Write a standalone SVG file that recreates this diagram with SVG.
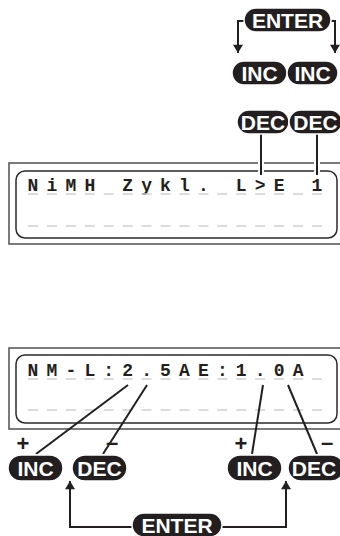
<svg xmlns="http://www.w3.org/2000/svg" width="340" height="536" viewBox="0 0 340 536">
<defs>
<marker id="ah" viewBox="0 0 10 12" refX="10" refY="6" markerWidth="12" markerHeight="10" markerUnits="userSpaceOnUse" orient="auto">
<path d="M0,0 L10,6 L0,12 Z" fill="#231f20"/>
</marker>
<style>
.pill{fill:#231f20;stroke:#fff;stroke-width:1.5}
.pt{font-family:"Liberation Sans",Arial,sans-serif;font-weight:bold;font-size:21px;fill:#fff;text-anchor:middle}
.outer{fill:none;stroke:#5a5a5a;stroke-width:1.6}
.inner{fill:none;stroke:#2a2a2a;stroke-width:1.5}
.lcd{font-family:"Liberation Mono","Courier New",monospace;font-weight:bold;font-size:18px;fill:#231f20;letter-spacing:8.13px}
.dash{stroke:#cfcfcf;stroke-width:1.6;stroke-dasharray:10 8.93}
.con{fill:none;stroke:#231f20;stroke-width:2}
.halo{fill:none;stroke:#fff;stroke-width:6}
.sign{font-family:"Liberation Sans",Arial,sans-serif;font-weight:bold;font-size:22px;fill:#231f20;text-anchor:middle}
</style>
</defs>

<g id="display1">
<rect class="outer" x="9" y="163" width="340" height="81"/>
<rect class="inner" x="16" y="171" width="321" height="67" rx="9"/>
<text class="lcd" x="27.6" y="191">NiMH Zykl. L&gt;E 1</text>
<line class="dash" x1="28" y1="194" x2="331" y2="194"/>
<line class="dash" x1="28" y1="226" x2="331" y2="226"/>
</g>

<g id="display2">
<rect class="outer" x="9" y="348" width="340" height="81"/>
<rect class="inner" x="16" y="355" width="321" height="68" rx="9"/>
<text class="lcd" x="27.6" y="376">NM-L:2.5AE:1.0A</text>
<line class="dash" x1="28" y1="379" x2="331" y2="379"/>
<line class="dash" x1="28" y1="410" x2="331" y2="410"/>
</g>

<g id="connectors">
<path class="con" d="M245,21 H238 V53" marker-end="url(#ah)"/>
<path class="con" d="M330,21 H335 V53" marker-end="url(#ah)"/>
<line class="halo" x1="261" y1="135" x2="261" y2="174"/>
<line class="halo" x1="317" y1="135" x2="317" y2="174"/>
<line class="con" x1="261" y1="133" x2="261" y2="175"/>
<line class="con" x1="317" y1="133" x2="317" y2="175"/>
<line class="con" x1="128" y1="385" x2="36" y2="454"/>
<line class="con" x1="147" y1="385" x2="103" y2="454"/>
<line class="con" x1="263" y1="385" x2="252" y2="454"/>
<line class="con" x1="288" y1="385" x2="317" y2="454"/>
<path class="con" d="M133,527 H70 V481" marker-end="url(#ah)"/>
<path class="con" d="M221,527 H286 V481" marker-end="url(#ah)"/>
</g>

<g id="enter-top">
<rect class="pill" x="244" y="8" width="87" height="24" rx="12"/>
<text class="pt" x="287.5" y="28">ENTER</text>
</g>
<g id="inc-top-1">
<rect class="pill" x="232" y="61" width="55" height="24" rx="12"/>
<text class="pt" x="259.5" y="81">INC</text>
</g>
<g id="inc-top-2">
<rect class="pill" x="287" y="61" width="51" height="24" rx="12"/>
<text class="pt" x="312.5" y="81">INC</text>
</g>
<g id="dec-top-1">
<rect class="pill" x="237" y="110" width="52" height="24" rx="12"/>
<text class="pt" x="263" y="130">DEC</text>
</g>
<g id="dec-top-2">
<rect class="pill" x="289" y="110" width="53" height="24" rx="12"/>
<text class="pt" x="315.5" y="130">DEC</text>
</g>

<g id="inc-bottom-1">
<text class="sign" x="23" y="451">+</text>
<rect class="pill" x="8" y="455" width="55" height="26" rx="13"/>
<text class="pt" x="35.5" y="476">INC</text>
</g>
<g id="dec-bottom-1">
<text class="sign" x="112" y="450">–</text>
<rect class="pill" x="72" y="455" width="55" height="26" rx="13"/>
<text class="pt" x="99.5" y="476">DEC</text>
</g>
<g id="inc-bottom-2">
<text class="sign" x="241" y="451">+</text>
<rect class="pill" x="227" y="455" width="55" height="26" rx="13"/>
<text class="pt" x="254.5" y="476">INC</text>
</g>
<g id="dec-bottom-2">
<text class="sign" x="327" y="450">–</text>
<rect class="pill" x="288" y="455" width="56" height="26" rx="13"/>
<text class="pt" x="314" y="476">DEC</text>
</g>
<g id="enter-bottom">
<rect class="pill" x="132" y="513" width="90" height="24" rx="12"/>
<text class="pt" x="177" y="533">ENTER</text>
</g>
</svg>
